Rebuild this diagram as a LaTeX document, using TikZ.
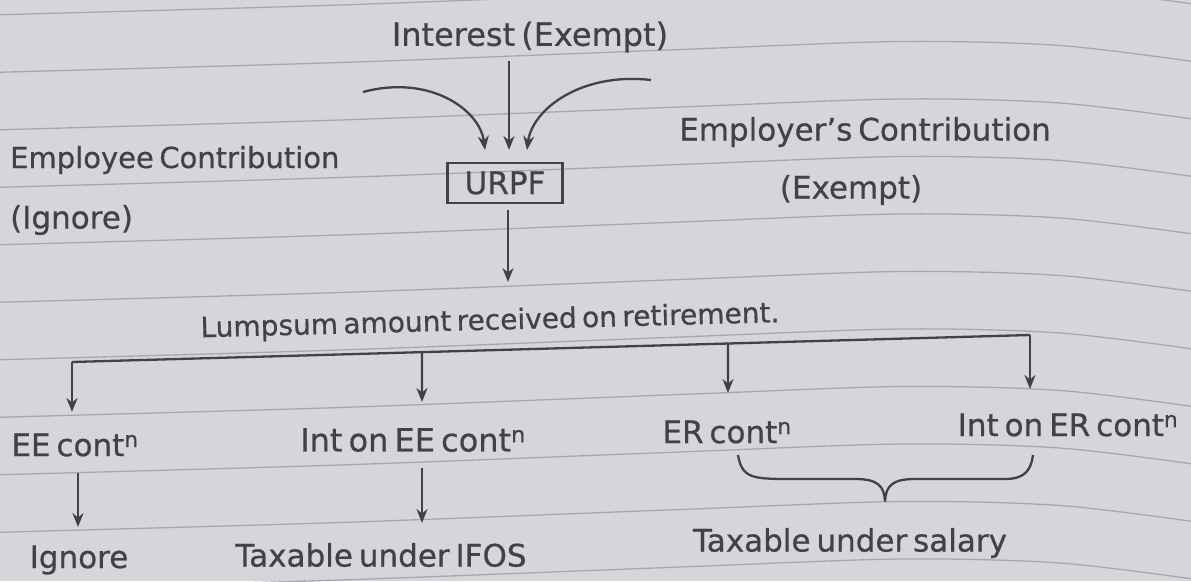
\documentclass[tikz,border=0pt]{standalone}
\usepackage{fontspec}
\setmainfont{DejaVu Sans}[WordSpace=0.6,FakeBold=0.6]
\usetikzlibrary{arrows.meta,calc}
\definecolor{paper}{HTML}{D7D5D9}
\definecolor{ruling}{HTML}{A8A7AD}
\definecolor{ink}{HTML}{42414B}
\begin{document}
\begin{tikzpicture}[x=1pt,y=-1pt,
  lbl/.style={text=ink,font=\fontsize{31}{34}\selectfont,inner sep=0pt},
  conn/.style={draw=ink,line width=2.3pt,-{Stealth[length=14pt,width=11pt]}},
  plain/.style={draw=ink,line width=2.3pt,line join=round}]
\useasboundingbox (0,0) rectangle (1191,581);
\fill[paper] (0,0) rectangle (1191,581);
% ruled notebook lines, bent by the page curl
\foreach \k in {0,...,10}{
  \pgfmathsetmacro\yy{15+57.5*\k}
  \draw[ruling,line width=1.3pt] plot[smooth] coordinates
    {(-10,\yy) (340,\yy-10) (680,\yy-23) (900,\yy-31) (1060,\yy-27) (1200,\yy-10)};
}
% top part
\node[lbl,font=\fontsize{32}{35}\selectfont] (interest) at (530,37) {Interest (Exempt)};
\node[lbl,draw=ink,line width=2.3pt,minimum width=115pt,minimum height=40pt] (urpf) at (505,183) {URPF};
\node[lbl,font=\fontsize{29}{32}\selectfont,anchor=west] (empc) at (10,160) {Employee Contribution};
\node[lbl,anchor=west] (empig) at (10,220) {(Ignore)};
\node[lbl] (erc) at (865,132) {Employer's Contribution};
\node[lbl] (erex) at (851,190) {(Exempt)};
\coordinate (lsrc) at (363,92);
\coordinate (rsrc) at (651,80);
\draw[conn] (interest.south -| 509,0) ++(0,8) -- (509,150);
\draw[conn] (lsrc) .. controls (430,74) and (480,110) .. (485,150);
\draw[conn] (rsrc) .. controls (580,72) and (532,110) .. (527,150);
% lump sum and its split
\node[lbl,font=\fontsize{28}{31}\selectfont,rotate=1.5] (lump) at (490,322) {Lumpsum amount received on retirement.};
\draw[conn] (urpf.south -| 508,0) ++(0,6) -- (508,282);
\coordinate (busL) at (72,362);
\coordinate (busR) at (1030,335);
\draw[plain] (busL) -- (busR);
\node[lbl] (ee) at (75,445) {EE cont\textsuperscript{n}};
\node[lbl,font=\fontsize{32}{35}\selectfont] (inee) at (413,440) {Int on EE cont\textsuperscript{n}};
\node[lbl] (er) at (727,432) {ER cont\textsuperscript{n}};
\node[lbl] (iner) at (1068,425) {Int on ER cont\textsuperscript{n}};
\draw[conn] (busL) -- (72,412);
\draw[conn] ($(busL)!0.3653!(busR)$) -- (422,402);
\draw[conn] ($(busL)!0.6848!(busR)$) -- (728,393);
\draw[conn] (busR) -- (1030,389);
% outcomes
\node[lbl] (ignore) at (79,560) {Ignore};
\node[lbl] (ifos) at (381,555) {Taxable under IFOS};
\node[lbl] (salary) at (850,543) {Taxable under salary};
\draw[conn] (78,473) -- (78,527);
\draw[conn] (422,468) -- (422,523);
\draw[plain] (738,455) .. controls (742,478) and (752,479) .. (790,479)
  -- (855,479) .. controls (878,479) and (884,486) .. (885,501)
  .. controls (886,486) and (892,479) .. (915,479)
  -- (1005,479) .. controls (1025,479) and (1031,470) .. (1033,455);
\end{tikzpicture}
\end{document}
